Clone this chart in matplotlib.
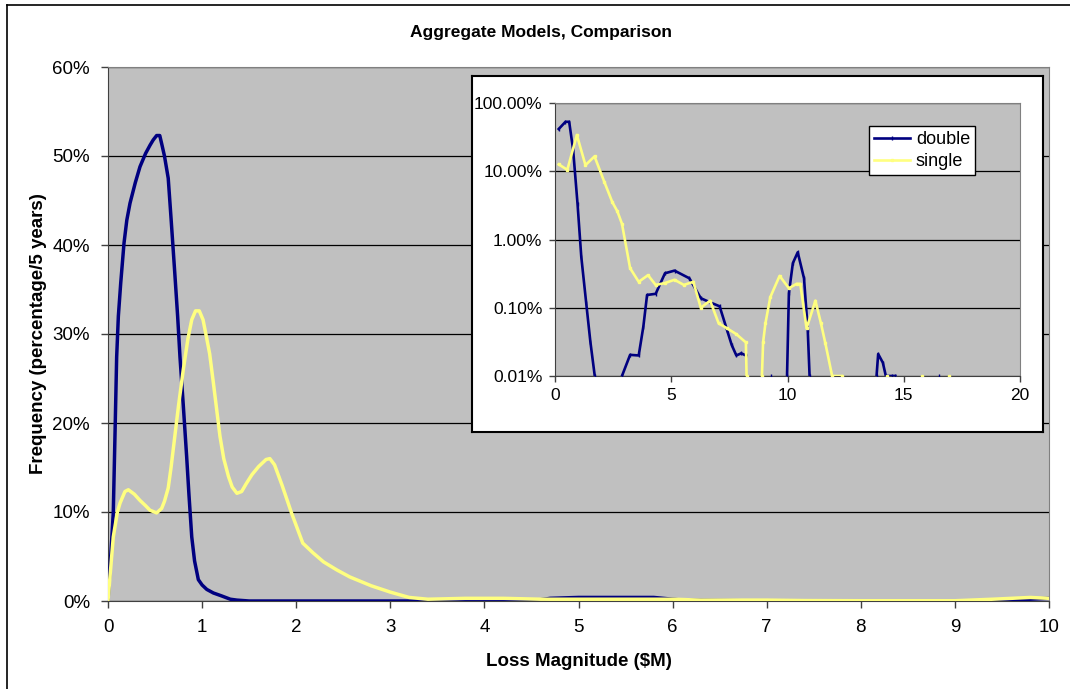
import numpy as np
import matplotlib.pyplot as plt
from matplotlib.ticker import FuncFormatter
from matplotlib.lines import Line2D

plt.rcParams['font.family'] = ['Liberation Sans', 'DejaVu Sans']

# main chart: frequency vs loss magnitude ($M)
double_x = [0.0, 0.02, 0.04, 0.056, 0.075, 0.092, 0.11, 0.135, 0.17, 0.2, 0.234, 0.29,
            0.34, 0.4, 0.446, 0.48, 0.517, 0.55, 0.57, 0.6, 0.64, 0.67, 0.71, 0.74, 0.765,
            0.8, 0.836, 0.86, 0.89, 0.92, 0.96, 1.0, 1.05, 1.12, 1.2, 1.3, 1.37, 1.5, 4.5,
            4.7, 5.0, 5.8, 6.1, 7.0, 9.5, 9.8, 10.0]
double_y = [0.0, 0.035, 0.07, 0.099, 0.19, 0.274, 0.32, 0.357, 0.402, 0.428, 0.447, 0.47,
            0.488, 0.503, 0.512, 0.518, 0.523, 0.523, 0.514, 0.50, 0.475, 0.43, 0.368, 0.32,
            0.274, 0.22, 0.162, 0.12, 0.072, 0.045, 0.024, 0.018, 0.013, 0.009, 0.006, 0.002,
            0.001, 0.0, 0.0, 0.003, 0.004, 0.004, 0.001, 0.0, 0.0, 0.002, 0.003]

single_x = [0.0, 0.056, 0.1, 0.128, 0.18, 0.216, 0.28, 0.34, 0.4, 0.446, 0.517, 0.57, 0.6,
            0.64, 0.67, 0.71, 0.75, 0.8, 0.85, 0.89, 0.93, 0.97, 1.01, 1.04, 1.08, 1.12,
            1.19, 1.23, 1.28, 1.32, 1.37, 1.42, 1.47, 1.53, 1.6, 1.68, 1.72, 1.77, 1.85, 1.95,
            2.07, 2.18, 2.29, 2.43, 2.57, 2.8, 3.0, 3.2, 3.4, 3.8, 4.2, 4.6, 5.0, 6.0, 6.3,
            7.0, 7.4, 8.0, 9.0, 9.4, 9.8, 10.0]
single_y = [0.0, 0.072, 0.100, 0.110, 0.123, 0.125, 0.12, 0.113, 0.107, 0.102, 0.099, 0.104,
            0.112, 0.127, 0.15, 0.185, 0.22, 0.26, 0.295, 0.316, 0.326, 0.326, 0.316, 0.30,
            0.278, 0.245, 0.185, 0.16, 0.14, 0.128, 0.121, 0.123, 0.132, 0.142, 0.151, 0.159,
            0.16, 0.153, 0.13, 0.099, 0.065, 0.054, 0.044, 0.035, 0.027, 0.017, 0.010, 0.004,
            0.002, 0.003, 0.003, 0.002, 0.002, 0.002, 0.001, 0.001, 0.0005, 0.0003, 0.0003,
            0.002, 0.004, 0.003]

# inset: log scale, gaps where the value dropped to zero
nan = np.nan
inset_double_x = [0.16, 0.45, 0.61, 0.78, 0.97, 1.13, 1.34, 1.52, 1.71, 2.3, 2.88, 3.23,
                  3.6, 3.8, 3.96, 4.33, 4.73, 5.14, 5.78, 6.27, 6.67, 7.08, 7.4, 7.6, 7.8,
                  8.01, 8.21, 8.7, 9.3, 9.6, 9.98, 10.06, 10.23, 10.44, 10.71, 10.87, 10.95,
                  12.0, 13.83, 13.9, 14.1, 14.23, 14.5, 14.64, 15.5, 16.5, 17.0]
inset_double_y = [0.416, 0.53, 0.53, 0.206, 0.033, 0.0056, 0.00119, 0.00032, 0.0001, nan,
                  0.0001, 0.000204, 0.0002, 0.00053, 0.00154, 0.0016, 0.0032, 0.0035,
                  0.0027, 0.00138, 0.0012, 0.00105, 0.00047, 0.000285, 0.0002, 0.000215,
                  0.0002, nan, 0.0001, nan, 0.0001, 0.00163, 0.0045, 0.0065, 0.0027,
                  0.00048, 0.0001, nan, 0.0001, 0.00021, 0.000157, 0.0001, 0.0001, 0.0001,
                  nan, 0.0001, nan]

inset_single_x = [0.16, 0.53, 0.94, 1.31, 1.7, 2.12, 2.47, 2.68, 2.88, 3.23, 3.6, 4.0,
                  4.33, 4.73, 5.14, 5.54, 5.95, 6.27, 6.67, 7.04, 7.4, 7.8, 8.21, 8.24,
                  8.6, 8.9, 8.95, 9.05, 9.26, 9.66, 10.06, 10.39, 10.55, 10.82, 11.2, 11.44,
                  11.63, 11.92, 12.33, 13.5, 14.26, 15.0, 15.77, 16.3, 16.93, 17.5]
inset_single_y = [0.126, 0.105, 0.34, 0.123, 0.165, 0.07, 0.035, 0.026, 0.017, 0.0038,
                  0.0024, 0.003, 0.00216, 0.0023, 0.00257, 0.00216, 0.0024, 0.001, 0.00127,
                  0.00059, 0.0005, 0.00041, 0.00031, 0.0001, nan, 0.0001, 0.00031, 0.00059,
                  0.00143, 0.00293, 0.00193, 0.00224, 0.00224, 0.0005, 0.00127, 0.00059,
                  0.0003, 0.0001, 0.0001, nan, 0.0001, nan, 0.0001, nan, 0.0001, nan]

navy = '#000080'
yellow = '#FFFF80'
grey_bg = '#C0C0C0'

fig = plt.figure(figsize=(10.7, 6.89), dpi=100)
fig.patch.set_facecolor('white')

# outer frame (only top and left edges show)
fig.add_artist(Line2D([7 / 1070, 1], [1 - 5 / 689, 1 - 5 / 689], color='black', lw=1.2,
                      transform=fig.transFigure))
fig.add_artist(Line2D([7 / 1070, 7 / 1070], [0, 1 - 5 / 689], color='black', lw=1.2,
                      transform=fig.transFigure))

ax = fig.add_axes([108 / 1070, 88 / 689, 941 / 1070, 534 / 689])
ax.set_facecolor(grey_bg)
ax.plot(double_x, double_y, color=navy, lw=2.5, zorder=3, solid_joinstyle='round')
ax.plot(single_x, single_y, color=yellow, lw=2.5, zorder=3, solid_joinstyle='round')
ax.set_xlim(0, 10)
ax.set_ylim(0, 0.6)
ax.set_xticks(range(0, 11))
ax.set_yticks(np.arange(0, 0.61, 0.1))
ax.yaxis.set_major_formatter(FuncFormatter(lambda v, p: f'{v * 100:.0f}%'))
ax.grid(axis='y', color='black', lw=0.9)
ax.set_axisbelow(True)
ax.tick_params(direction='out', length=5, width=1, color='#404040', labelsize=13.5, pad=8)
for s in ['left', 'bottom']:
    ax.spines[s].set_color('#404040')
for s in ['top', 'right']:
    ax.spines[s].set_color('#808080')
ax.set_xlabel(r'Loss Magnitude (\$M)', fontsize=13.5, fontweight='bold', labelpad=12)
ax.set_ylabel('Frequency (percentage/5 years)', fontsize=13.5, fontweight='bold', labelpad=4)
fig.text(541 / 1070, 1 - 33 / 689, 'Aggregate Models, Comparison', ha='center', va='center',
         fontsize=12.5, fontweight='bold')

# white panel that holds the log-scale inset
box = fig.add_axes([472 / 1070, 257 / 689, 571 / 1070, (613 - 257) / 689])
box.set_xticks([])
box.set_yticks([])
box.set_facecolor('white')
for s in box.spines.values():
    s.set_color('black')
    s.set_linewidth(1.5)

ins = fig.add_axes([555 / 1070, 313 / 689, 465 / 1070, 273 / 689])
ins.set_facecolor(grey_bg)
ins.set_yscale('log')
ins.plot(inset_double_x, inset_double_y, color=navy, lw=1.9, marker='|', ms=3, mew=1,
         label='double', zorder=3, solid_joinstyle='round')
ins.plot(inset_single_x, inset_single_y, color=yellow, lw=1.9, marker='s', ms=2,
         label='single', zorder=3, solid_joinstyle='round')
ins.set_xlim(0, 20)
ins.set_ylim(1e-4, 1)
ins.set_xticks([0, 5, 10, 15, 20])
ins.set_yticks([1e-4, 1e-3, 1e-2, 1e-1, 1])
ins.yaxis.set_minor_locator(plt.NullLocator())
ins.yaxis.set_major_formatter(FuncFormatter(lambda v, p: f'{v * 100:.2f}%'))
ins.grid(axis='y', color='black', lw=0.9)
ins.set_axisbelow(True)
ins.tick_params(direction='out', length=4, width=1, color='#404040', labelsize=12.5, pad=5)
for s in ['left', 'bottom']:
    ins.spines[s].set_color('#404040')
for s in ['top', 'right']:
    ins.spines[s].set_color('#808080')
leg = ins.legend(loc='upper left', bbox_to_anchor=(0.675, 0.916), fontsize=13,
                 frameon=True, fancybox=False, framealpha=1, edgecolor='black',
                 borderpad=0.3, handlelength=2.0, handletextpad=0.3, labelspacing=0.25,
                 borderaxespad=0)
leg.get_frame().set_linewidth(1)

fig.savefig('out.png', dpi=100)
